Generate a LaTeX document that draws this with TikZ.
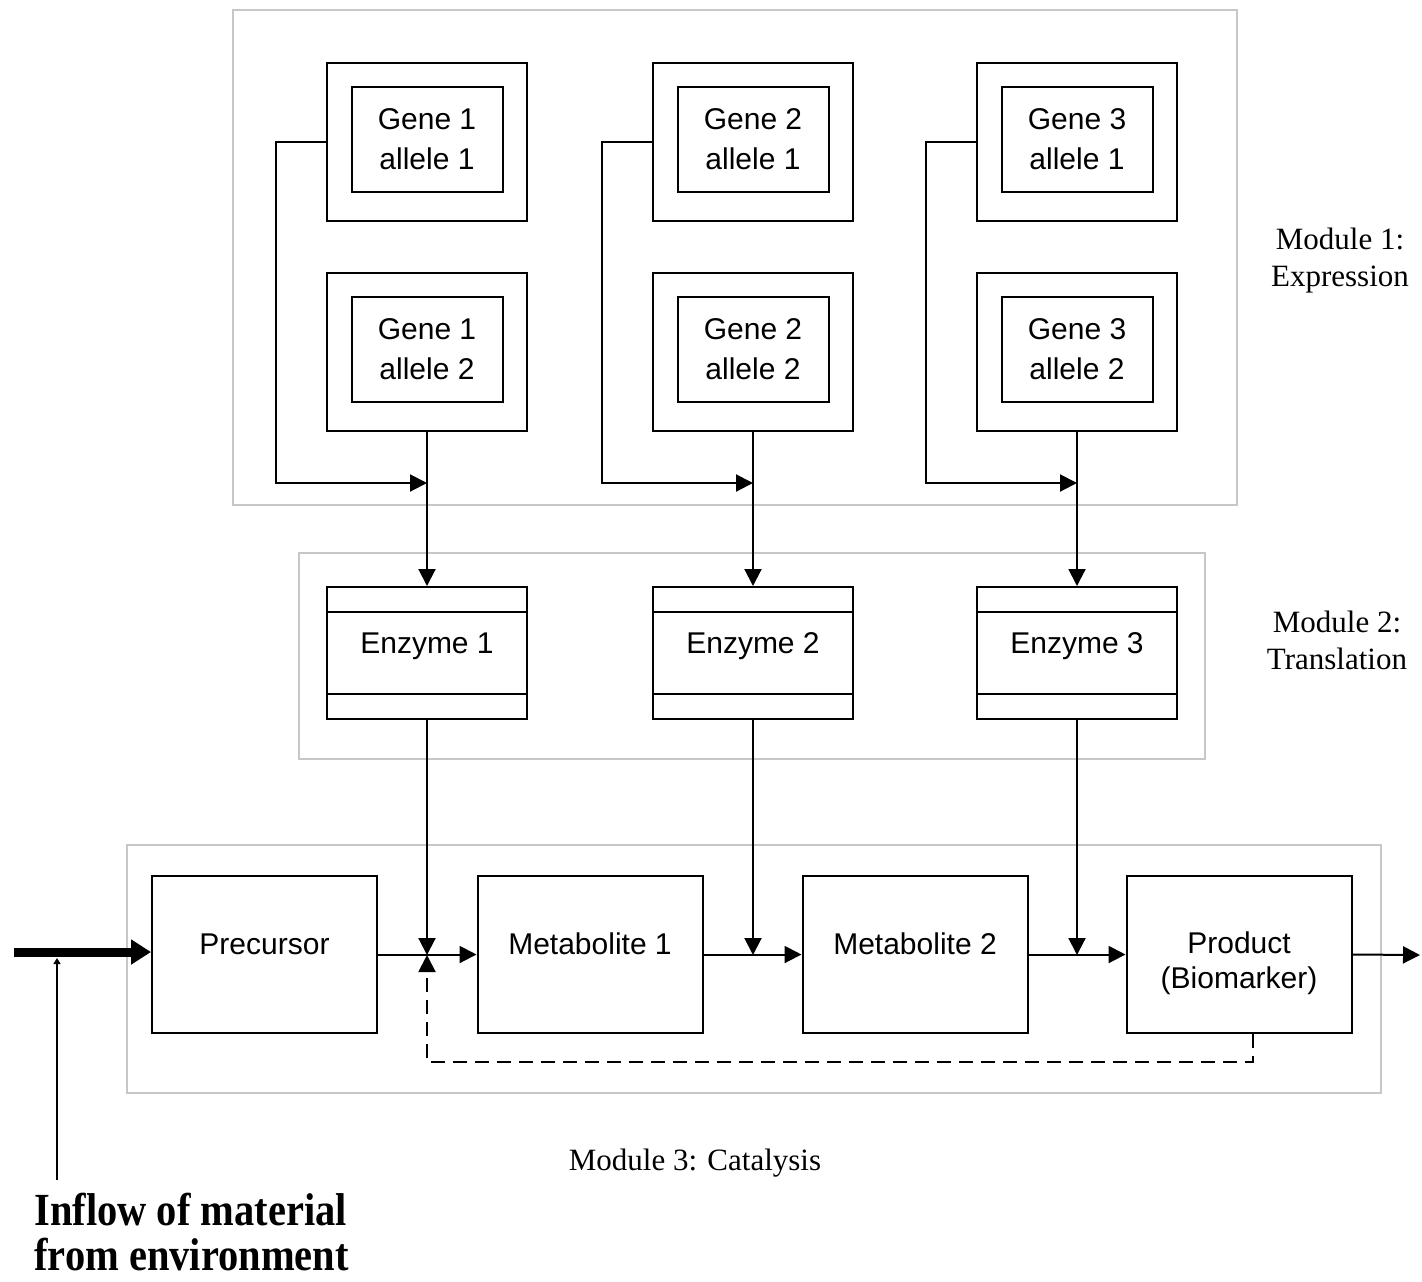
\documentclass[tikz,border=0pt]{standalone}
\usepackage{fontspec}
\setmainfont{Liberation Serif}
\newfontfamily\boxfont{Liberation Sans}
\usetikzlibrary{arrows.meta}

\begin{document}
\begin{tikzpicture}[x=0.5pt,y=-0.5pt]

\tikzset{module/.style = {draw=black!22, line width=1pt}}
\tikzset{genebox/.style = {shape=rectangle,draw,line width=1pt,minimum width=100pt,minimum height=79pt,inner sep=0pt}}
\tikzset{allele/.style = {shape=rectangle,draw,line width=1pt,minimum width=75.5pt,minimum height=52.5pt,inner sep=0pt,align=center,font=\boxfont\fontsize{15}{20}\selectfont}}
\tikzset{enzyme/.style = {shape=rectangle,draw,line width=1pt,minimum width=100pt,minimum height=66pt,inner sep=0pt,text height=5pt,text depth=5pt,font=\boxfont\fontsize{15}{18}\selectfont}}
\tikzset{metab/.style = {shape=rectangle,draw,line width=1pt,minimum width=112.5pt,minimum height=78.5pt,inner sep=0pt,align=center,font=\boxfont\fontsize{15}{17.5}\selectfont}}
\tikzset{oneline/.style = {text height=5pt,text depth=5pt}}
\tikzset{modtext/.style = {align=center,inner sep=0pt,font=\fontsize{15.5}{18.5}\selectfont}}
\tikzset{edge/.style = {-{Triangle[length=8.5pt,width=8.5pt]},line width=1pt}}

\useasboundingbox (0,0) rectangle (1422,1281);

% modules
\draw[module] (233,10) rectangle (1237,505);
\draw[module] (299,553) rectangle (1205,759);
\draw[module] (127,845) rectangle (1381,1093);
\node[modtext] (mod1) at (1340,261) {Module 1:\\Expression};
\node[modtext] (mod2) at (1337,640) {Module 2:\\Translation};
\node[modtext] (mod3) at (695,1163) {Module 3: Catalysis};

% genes
\node[genebox] (g11o) at (427,142) {};
\node[allele] (g11) at (427,139) {Gene 1\\allele 1};
\node[genebox] (g12o) at (427,352) {};
\node[allele] (g12) at (427,349) {Gene 1\\allele 2};
\node[genebox] (g21o) at (753,142) {};
\node[allele] (g21) at (753,139) {Gene 2\\allele 1};
\node[genebox] (g22o) at (753,352) {};
\node[allele] (g22) at (753,349) {Gene 2\\allele 2};
\node[genebox] (g31o) at (1077,142) {};
\node[allele] (g31) at (1077,139) {Gene 3\\allele 1};
\node[genebox] (g32o) at (1077,352) {};
\node[allele] (g32) at (1077,349) {Gene 3\\allele 2};

% enzymes
\node[enzyme] (e1) at (427,653) {Enzyme 1};
\node[enzyme] (e2) at (753,653) {Enzyme 2};
\node[enzyme] (e3) at (1077,653) {Enzyme 3};
\foreach \e in {e1,e2,e3} {
  \draw[line width=1pt] ([yshift=-13pt]\e.north west) -- ([yshift=-13pt]\e.north east);
  \draw[line width=1pt] ([yshift=13pt]\e.south west) -- ([yshift=13pt]\e.south east);
}

% metabolites
\node[metab,oneline] (prec) at (264.5,954.5) {Precursor};
\node[metab,oneline] (met1) at (590,954.5) {Metabolite 1};
\node[metab,oneline] (met2) at (915,954.5) {Metabolite 2};
\node[metab,text height=34pt,text depth=0pt] (prod) at (1239,954.5) {Product\\(Biomarker)};

\node[align=left,anchor=north west,inner sep=0pt,font=\bfseries\fontsize{23}{22.5}\selectfont] (inflow) at (34,1193)
  {\scalebox{0.88}[1]{Inflow of material}\\\scalebox{0.88}[1]{from environment}};

% joints
\coordinate (j1) at (427,483);
\coordinate (j2) at (753,483);
\coordinate (j3) at (1077,483);
\coordinate (k1) at (427,955);
\coordinate (k2) at (753,955);
\coordinate (k3) at (1077,955);
\coordinate (out) at (1420,955);
\coordinate (in0) at (14,952);
\coordinate (infoot) at (57,1180);
\coordinate (injoin) at (57,958);

% edges
\draw[edge] (g11o.west) -- ++(-50,0) |- (j1);
\draw[edge] (g21o.west) -- ++(-50,0) |- (j2);
\draw[edge] (g31o.west) -- ++(-50,0) |- (j3);
\draw[edge] (g12o.south) -- (e1.north);
\draw[edge] (g22o.south) -- (e2.north);
\draw[edge] (g32o.south) -- (e3.north);
\draw[edge] (e1.south) -- (k1);
\draw[edge] (e2.south) -- (k2);
\draw[edge] (e3.south) -- (k3);
\draw[edge] (prec.east) -- (met1.west);
\draw[edge] (met1.east) -- (met2.west);
\draw[edge] (met2.east) -- (prod.west);
\draw[edge] (prod.east) -- (out);
\draw[edge,dash pattern=on 7pt off 4pt] ([xshift=7pt]prod.south) -- ++(0,28) -| (k1);
\draw[line width=4.5pt,-{Triangle[length=10pt,width=12pt]}] (in0) -- (in0 -| prec.west);
\draw[line width=0.8pt,-{Triangle[length=3pt,width=3.5pt]}] (infoot) -- (injoin);

\end{tikzpicture}
\end{document}
